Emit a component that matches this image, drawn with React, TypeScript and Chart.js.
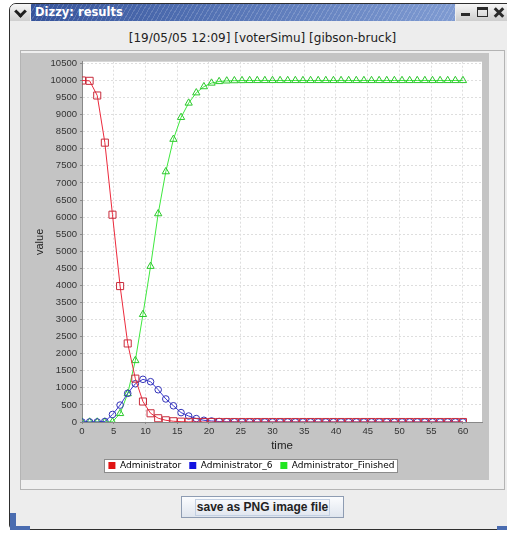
import React, { useEffect, useRef } from "react";
import { Chart, registerables } from "chart.js";

Chart.register(...registerables);

const windowTitle = "Dizzy: results";
const chartTitle = "[19/05/05 12:09] [voterSimu] [gibson-bruck]";
const buttonText = "save as PNG image file";
const xAxisTitle = "time";
const yAxisTitle = "value";

const seriesNames = ["Administrator", "Administrator_6", "Administrator_Finished"];

const xTicks = [0, 5, 10, 15, 20, 25, 30, 35, 40, 45, 50, 55, 60];
const yTicks = [
  0, 500, 1000, 1500, 2000, 2500, 3000, 3500, 4000, 4500, 5000, 5500, 6000, 6500, 7000, 7500, 8000, 8500,
  9000, 9500, 10000, 10500,
];

const times = [
  0, 1.2, 2.4, 3.6, 4.8, 6, 7.2, 8.4, 9.6, 10.8, 12, 13.2, 14.4, 15.6, 16.8, 18, 19.2, 20.4, 21.6, 22.8,
  24, 25.2, 26.4, 27.6, 28.8, 30, 31.2, 32.4, 33.6, 34.8, 36, 37.2, 38.4, 39.6, 40.8, 42, 43.2, 44.4,
  45.6, 46.8, 48, 49.2, 50.4, 51.6, 52.8, 54, 55.2, 56.4, 57.6, 58.8, 60,
];

const administrator = [
  10000, 9990, 9560, 8180, 6070, 3980, 2300, 1270, 600, 255, 110, 50, 22, 10, 5, 2, 0, 0, 0, 0,
  0, 0, 0, 0, 0, 0, 0, 0, 0, 0, 0, 0, 0, 0, 0, 0, 0, 0,
  0, 0, 0, 0, 0, 0, 0, 0, 0, 0, 0, 0, 0,
];

const administrator6 = [
  0, 0, 0, 15, 220, 495, 840, 1120, 1250, 1180, 945, 675, 475, 275, 175, 100, 50, 30, 15, 8,
  4, 2, 0, 0, 0, 0, 0, 0, 0, 0, 0, 0, 0, 0, 0, 0, 0, 0,
  0, 0, 0, 0, 0, 0, 0, 0, 0, 0, 0, 0, 0,
];

const administratorFinished = [
  0, 0, 0, 0, 5, 250, 830, 1800, 3150, 4560, 6100, 7330, 8280, 8920, 9340, 9640, 9820, 9925, 9970, 9988,
  9995, 9998, 10000, 10000, 10000, 10000, 10000, 10000, 10000, 10000, 10000, 10000, 10000, 10000, 10000, 10000, 10000, 10000,
  10000, 10000, 10000, 10000, 10000, 10000, 10000, 10000, 10000, 10000, 10000, 10000, 10000,
];

const lineColors = ["#ec2a3c", "#3a3ad2", "#3ee83e"];
const markerColors = ["#c82c3c", "#3434b8", "#2cc82c"];
const legendColors = ["#e01414", "#1414e0", "#22e622"];
const pointStyles = ["rect", "circle", "triangle"];
const pointRadii = [5, 3.3, 4.2];

const seriesValues = [administrator, administrator6, administratorFinished];

const FONT = "'Liberation Sans', Arial, sans-serif";

const backgroundPlugin = {
  id: "panelBackground",
  beforeDraw(chart: any) {
    const ctx = chart.ctx;
    ctx.save();
    ctx.fillStyle = "#c4c4c4";
    ctx.fillRect(0, 0, chart.width, chart.height);
    const a = chart.chartArea;
    ctx.fillStyle = "#ffffff";
    ctx.fillRect(a.left, a.top, a.right - a.left, a.bottom - a.top);
    const hb = chart.legend && chart.legend.legendHitBoxes;
    if (hb && hb.length) {
      const l = Math.min(...hb.map((h: any) => h.left)) - 4;
      const r = Math.max(...hb.map((h: any) => h.left + h.width)) + 4;
      const t = hb[0].top - 2.5;
      const b = hb[0].top + hb[0].height + 2.5;
      ctx.fillStyle = "#ffffff";
      ctx.fillRect(Math.round(l), Math.round(t), Math.round(r - l), Math.round(b - t));
      ctx.strokeStyle = "#8c8c8c";
      ctx.lineWidth = 1;
      ctx.strokeRect(Math.round(l) + 0.5, Math.round(t) + 0.5, Math.round(r - l) - 1, Math.round(b - t) - 1);
    }
    ctx.restore();
  },
};

function ChartPanel() {
  const ref = useRef<HTMLCanvasElement | null>(null);
  useEffect(() => {
    if (!ref.current) return;
    const datasets = seriesNames.map((name, i) => ({
      label: name,
      data: times.map((t, j) => ({ x: t, y: seriesValues[i][j] })),
      borderColor: lineColors[i],
      backgroundColor: legendColors[i],
      borderWidth: 1,
      tension: 0,
      pointStyle: pointStyles[i],
      pointRadius: pointRadii[i],
      pointBorderColor: markerColors[i],
      pointBackgroundColor: "rgba(0,0,0,0)",
      pointBorderWidth: 1,
      pointHoverRadius: pointRadii[i],
    }));
    const chart = new Chart(ref.current, {
      type: "line",
      data: { datasets },
      plugins: [backgroundPlugin],
      options: {
        animation: false,
        responsive: false,
        devicePixelRatio: 1,
        layout: { padding: { top: 8, right: 7, left: 0, bottom: 6 } },
        events: [],
        plugins: {
          title: { display: false },
          tooltip: { enabled: false },
          legend: {
            display: true,
            position: "bottom",
            maxHeight: 21,
            labels: {
              boxWidth: 7,
              boxHeight: 7,
              padding: 8,
              color: "#000",
              font: { family: "'DejaVu Sans', sans-serif", size: 9 },
              generateLabels: (c: any) =>
                c.data.datasets.map((ds: any, i: number) => ({
                  text: ds.label,
                  fillStyle: legendColors[i],
                  strokeStyle: legendColors[i],
                  lineWidth: 0,
                  hidden: false,
                  datasetIndex: i,
                  fontColor: "#000",
                })),
            },
          },
        },
        scales: {
          x: {
            type: "linear",
            min: 0,
            max: 63,
            ticks: {
              color: "#333",
              padding: 2,
              maxRotation: 0,
              autoSkip: false,
              font: { family: FONT, size: 9.5 },
              callback: (v: any) => String(v),
            },
            afterBuildTicks: (s: any) => {
              s.ticks = xTicks.map((v) => ({ value: v }));
            },
            afterFit: (s: any) => {
              s.height = 31;
            },
            grid: {
              color: "#dedede",
              tickColor: "#888",
              tickLength: 2,
              lineWidth: 1,
            },
            border: { color: "#888", dash: [2, 2] },
            title: {
              display: true,
              text: xAxisTitle,
              color: "#222",
              font: { family: FONT, size: 11.5 },
              padding: { top: 0, bottom: 0 },
            },
          },
          y: {
            type: "linear",
            min: 0,
            max: 10550,
            ticks: {
              color: "#333",
              padding: 3,
              autoSkip: false,
              font: { family: FONT, size: 9.5 },
              callback: (v: any) => String(v),
            },
            afterBuildTicks: (s: any) => {
              s.ticks = yTicks.map((v) => ({ value: v }));
            },
            afterFit: (s: any) => {
              s.width = 61;
            },
            grid: {
              color: "#dedede",
              tickColor: "#888",
              tickLength: 2,
              lineWidth: 1,
            },
            border: { color: "#888", dash: [2, 2] },
            title: {
              display: true,
              text: yAxisTitle,
              color: "#222",
              font: { family: FONT, size: 11 },
              padding: { top: 12, bottom: 0 },
            },
          },
        },
      },
    });
    return () => chart.destroy();
  }, []);
  return (
    <canvas
      ref={ref}
      width={468}
      height={427}
      style={{ position: "absolute", left: 21, top: 53, width: 468, height: 427 }}
    />
  );
}

export default function App() {
  const abs = (s: React.CSSProperties): React.CSSProperties => ({ position: "absolute", ...s });
  return (
    <div style={abs({ left: 0, top: 0, width: 507, height: 535, background: "#ffffff", overflow: "hidden" })}>
      <div
        style={abs({
          left: 9,
          top: 3,
          width: 520,
          height: 527,
          background: "#ededed",
          border: "1px solid #2e2e2e",
          borderRadius: "7px 0 0 5px",
          boxSizing: "border-box",
        })}
      />
      <div
        style={abs({
          left: 10,
          top: 4,
          width: 20,
          height: 17,
          background: "linear-gradient(#f6f6f6, #cfcfcf)",
          borderTopLeftRadius: 6,
        })}
      >
        <div
          style={abs({
            left: 6,
            top: 3,
            width: 6,
            height: 6,
            borderRight: "3px solid #1e1e1e",
            borderBottom: "3px solid #1e1e1e",
            transform: "rotate(45deg)",
          })}
        />
      </div>
      <div
        style={abs({
          left: 31,
          top: 4,
          width: 424,
          height: 17,
          background:
            "repeating-linear-gradient(120deg, rgba(255,255,255,0.16) 0px, rgba(255,255,255,0.16) 1px, rgba(255,255,255,0) 1px, rgba(255,255,255,0) 4px), linear-gradient(90deg, #35539a 0%, #4e6db0 35%, #7f9bd2 100%)",
        })}
      >
        <span
          style={abs({
            left: 4,
            top: 1,
            color: "#ffffff",
            fontFamily: "'DejaVu Sans', sans-serif",
            fontWeight: "bold",
            fontSize: 11.5,
            lineHeight: "15px",
            whiteSpace: "nowrap",
          })}
        >
          {windowTitle}
        </span>
      </div>
      <div style={abs({ left: 456, top: 4, width: 51, height: 17, background: "linear-gradient(#f6f6f6, #cdcdcd)" })}>
        <div style={abs({ left: 5, top: 9, width: 9, height: 3, background: "#2a2a2a" })} />
        <div
          style={abs({
            left: 21,
            top: 3,
            width: 11,
            height: 10,
            border: "1px solid #2a2a2a",
            borderTopWidth: 3,
            boxSizing: "border-box",
          })}
        />
        <div style={abs({ left: 37, top: 7, width: 12, height: 3, background: "#2a2a2a", transform: "rotate(45deg)" })} />
        <div style={abs({ left: 37, top: 7, width: 12, height: 3, background: "#2a2a2a", transform: "rotate(-45deg)" })} />
      </div>
      <div
        style={abs({
          left: 20,
          top: 30,
          width: 485,
          textAlign: "center",
          fontFamily: "'DejaVu Sans', sans-serif",
          fontSize: 12,
          lineHeight: "16px",
          color: "#222",
          whiteSpace: "nowrap",
        })}
      >
        {chartTitle}
      </div>
      <div
        style={abs({
          left: 20,
          top: 50,
          width: 485,
          height: 440,
          border: "1px solid #b4b4b4",
          boxSizing: "border-box",
          background: "#efefef",
        })}
      />
      <ChartPanel />
      <div
        style={abs({
          left: 181,
          top: 496,
          width: 163,
          height: 22,
          border: "1px solid #8e9cb2",
          boxSizing: "border-box",
          background: "linear-gradient(#fbfcfe, #dfe5ee)",
          display: "flex",
          alignItems: "center",
          justifyContent: "center",
        })}
      >
        <span
          style={{
            fontFamily: "'Liberation Sans', Arial, sans-serif",
            fontWeight: "bold",
            fontSize: 12,
            color: "#222",
            border: "1px solid #c2cfe2",
            padding: "0 1px",
            lineHeight: "15px",
            whiteSpace: "nowrap",
          }}
        >
          {buttonText}
        </span>
      </div>
      <div style={abs({ left: 10, top: 513, width: 6, height: 17, background: "#4a6cb0" })} />
      <div style={abs({ left: 10, top: 526, width: 20, height: 4, background: "#4a6cb0" })} />
      <div style={abs({ left: 497, top: 526, width: 10, height: 4, background: "#4a6cb0" })} />
    </div>
  );
}
